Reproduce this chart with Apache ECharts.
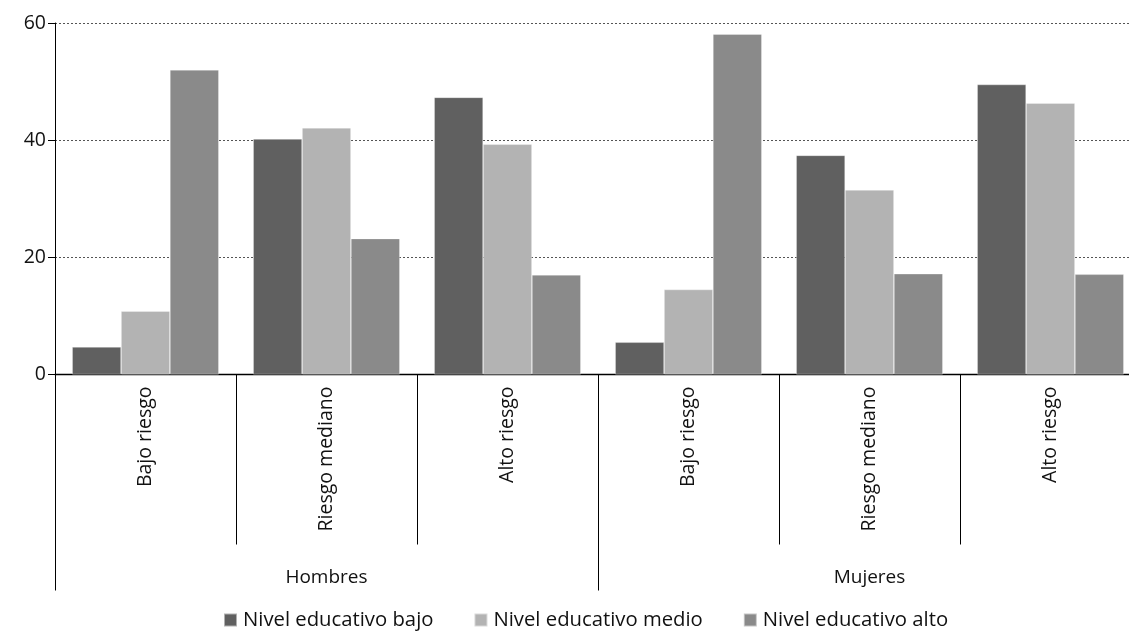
<!DOCTYPE html>
<html>
<head>
<meta charset="utf-8">
<script src="https://cdn.jsdelivr.net/npm/echarts@6/dist/echarts.min.js"></script>
<style>
  html, body { margin: 0; padding: 0; background: #fff; overflow: hidden; }
  #chart { width: 1160px; height: 635px; }
</style>
</head>
<body>
<div id="chart"></div>
<script>
// Risk categories within each sex group
const categories = ['Bajo riesgo', 'Riesgo mediano', 'Alto riesgo', 'Bajo riesgo', 'Riesgo mediano', 'Alto riesgo'];
const groups = ['Hombres', 'Mujeres'];

// Percentages by educational level
const nivelBajo  = [4.7, 40.2, 47.3, 5.5, 37.4, 49.5];
const nivelMedio = [10.8, 42.1, 39.3, 14.5, 31.5, 46.3];
const nivelAlto  = [52.0, 23.2, 17.0, 58.1, 17.2, 17.1];

const seriesNames = ['Nivel educativo bajo', 'Nivel educativo medio', 'Nivel educativo alto'];
const seriesColors = ['#606060', '#b3b3b3', '#8a8a8a'];
const yTicks = { min: 0, max: 60, interval: 20 };

const FONT = 'Open Sans';
const chart = echarts.init(document.getElementById('chart'), null, { renderer: 'canvas' });

const mkBar = (name, data, color) => ({
  name, type: 'bar', data,
  xAxisIndex: 0,
  barGap: '0%',
  barCategoryGap: '19%',
  itemStyle: { color, borderColor: 'rgba(255,255,255,0.5)', borderWidth: 0.6 },
  emphasis: { disabled: true }
});

chart.setOption({
  animation: false,
  textStyle: { fontFamily: FONT },
  // the last group runs slightly past the visible edge
  grid: { left: 55, top: 23, bottom: 260.5, width: 1086, containLabel: false },
  legend: {
    bottom: 0,
    left: 218,
    itemWidth: 13, itemHeight: 13,
    itemGap: 40,
    icon: 'rect',
    textStyle: { fontFamily: FONT, fontSize: 20.3, color: '#111', padding: [0, 0, 0, 1] },
    data: seriesNames
  },
  xAxis: [
    {
      type: 'category',
      data: categories,
      position: 'bottom',
      axisLine: { show: true, lineStyle: { color: '#000', width: 1.3 } },
      axisTick: { show: true, interval: 0, length: 170, lineStyle: { color: '#000', width: 1 } },
      axisLabel: {
        interval: 0, rotate: 90, margin: 12,
        fontFamily: FONT, fontSize: 19.5, color: '#111'
      },
      splitLine: { show: false }
    },
    {
      type: 'category',
      data: groups,
      position: 'bottom',
      axisLine: { show: false },
      axisTick: { show: true, interval: 0, length: 216, lineStyle: { color: '#000', width: 1 } },
      axisLabel: { interval: 0, margin: 194, fontFamily: FONT, fontSize: 19, color: '#111' },
      splitLine: { show: false }
    }
  ],
  yAxis: {
    type: 'value',
    min: yTicks.min, max: yTicks.max, interval: yTicks.interval,
    axisLine: { show: true, lineStyle: { color: '#000', width: 1 } },
    axisTick: { show: true, length: 7, lineStyle: { color: '#000' } },
    axisLabel: { fontFamily: FONT, fontSize: 19.5, color: '#111', margin: 9 },
    splitLine: { show: true, lineStyle: { color: '#555', type: [2, 2], width: 1 } }
  },
  series: [
    mkBar(seriesNames[0], nivelBajo, seriesColors[0]),
    mkBar(seriesNames[1], nivelMedio, seriesColors[1]),
    mkBar(seriesNames[2], nivelAlto, seriesColors[2])
  ]
});
</script>
</body>
</html>
